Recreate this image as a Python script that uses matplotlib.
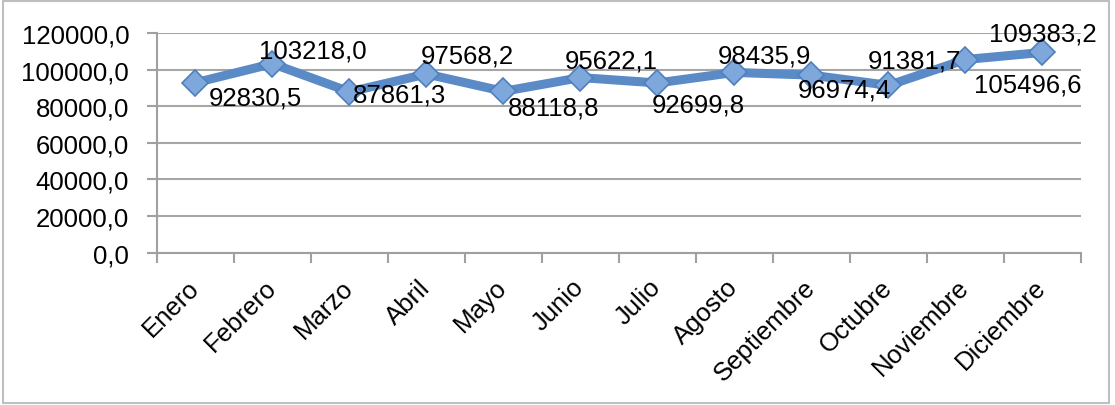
import numpy as np
import matplotlib.pyplot as plt
from matplotlib.ticker import FuncFormatter, FixedLocator
from matplotlib.patches import Rectangle

plt.rcParams['font.family'] = ['Liberation Sans', 'DejaVu Sans']

meses = ['Enero', 'Febrero', 'Marzo', 'Abril', 'Mayo', 'Junio', 'Julio',
         'Agosto', 'Septiembre', 'Octubre', 'Noviembre', 'Diciembre']
valores = [92830.5, 103218.0, 87861.3, 97568.2, 88118.8, 95622.1,
           92699.8, 98435.9, 96974.4, 91381.7, 105496.6, 109383.2]

# desplazamiento (px) de cada etiqueta respecto a su punto
desp_x = [60, 40, 50, 41, 50, 31, 41, 30, 33, 26, 62, 0]
desp_y = [-15, 13, -3, 19, -16, 17, -22, 17, -14, 25, -25, 19]

def coma(v, pos=None):
    return f'{v:.1f}'.replace('.', ',')

fig = plt.figure(figsize=(11.15, 4.06), dpi=100)
ax = fig.add_axes([0.1408, 0.3754, 0.9695 - 0.1408, 0.9163 - 0.3754])

x = np.arange(len(meses))
azul = '#5B8BC7'
ax.plot(x, valores, color=azul, lw=6.5, solid_joinstyle='round', zorder=3)
ax.plot(x, valores, ls='none', marker='D', ms=13, mfc='#7EA7DB',
        mec='#4F7FBD', mew=1.2, zorder=4)

for xi, v, dx, dy in zip(x, valores, desp_x, desp_y):
    ax.annotate(coma(v), (xi, v), xytext=(dx * 0.72, dy * 0.72),
                textcoords='offset points', ha='center', va='center',
                fontsize=18.5, color='black', zorder=5)

ax.set_xlim(-0.5, len(meses) - 0.5)
ax.set_ylim(0, 120000)
ax.set_yticks(np.arange(0, 120001, 20000))
ax.yaxis.set_major_formatter(FuncFormatter(coma))

# etiquetas en el centro de cada mes, marcas en los límites
ax.set_xticks(x)
ax.set_xticklabels(meses, rotation=45, ha='right', va='center',
                   rotation_mode='anchor')
ax.xaxis.set_minor_locator(FixedLocator(np.arange(-0.5, len(meses), 1)))
ax.tick_params(axis='x', which='major', length=0, pad=22, labelsize=18.5)
ax.tick_params(axis='x', which='minor', length=7, width=1.5, color='#A0A0A0')
ax.tick_params(axis='y', length=7, width=1.5, color='#A0A0A0', pad=13,
               labelsize=18.5)

ax.grid(axis='y', color='#A6A6A6', lw=1.5, zorder=0)
for lado in ['top', 'right']:
    ax.spines[lado].set_visible(False)
for lado in ['left', 'bottom']:
    ax.spines[lado].set_color('#A0A0A0')
    ax.spines[lado].set_linewidth(1.5)

fig.patches.append(Rectangle((3 / 1115, 2 / 406), 1106 / 1115, 402 / 406,
                             transform=fig.transFigure, fill=False,
                             edgecolor='#BFBFBF', lw=1.5))

plt.savefig('out.png', dpi=100)
